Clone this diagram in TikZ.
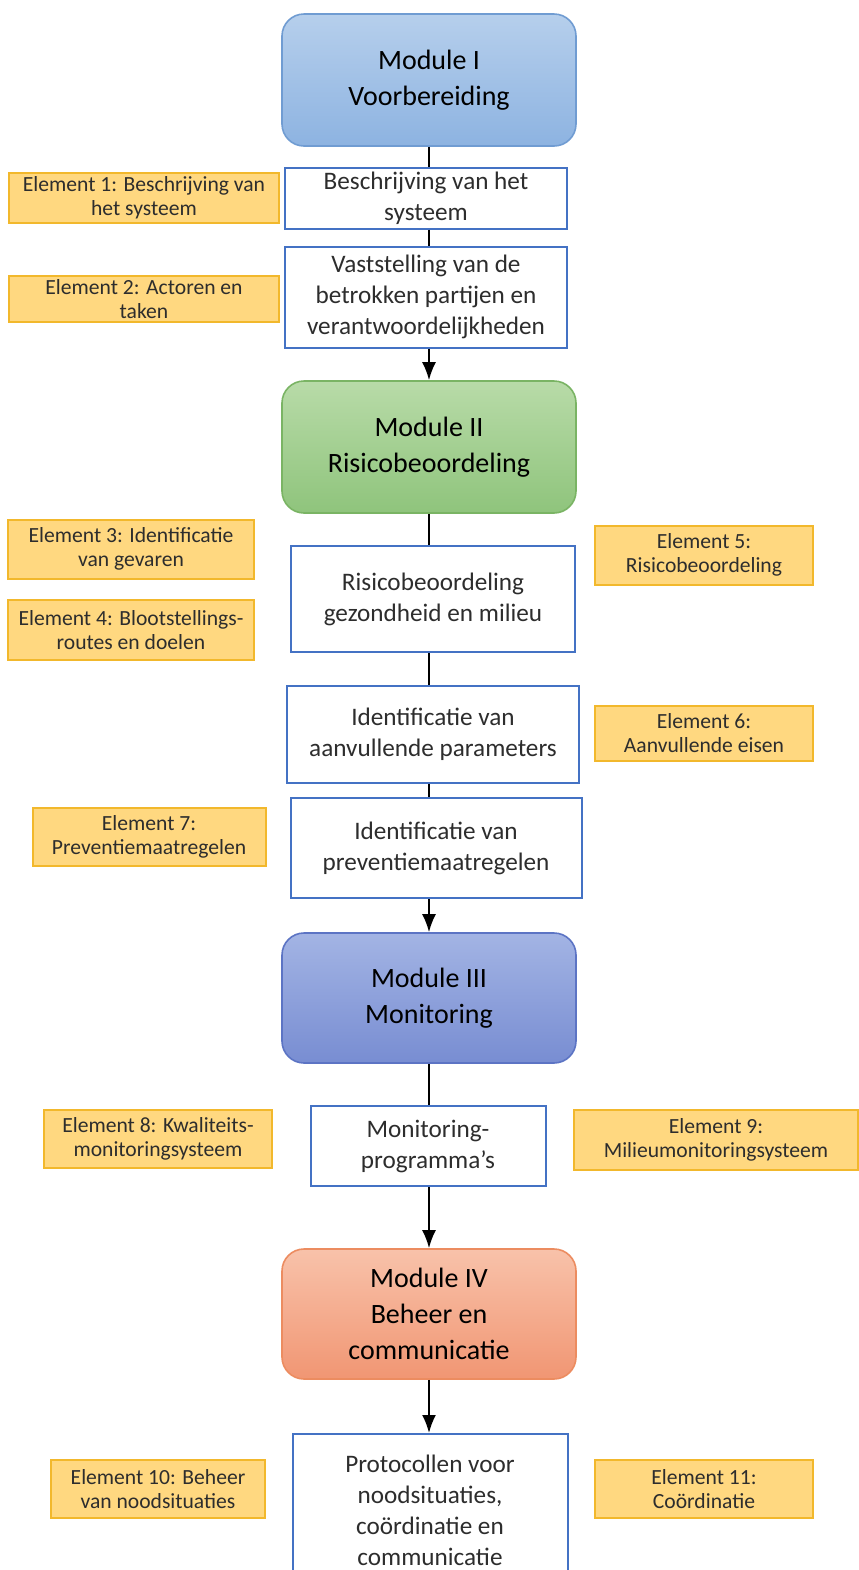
\documentclass[tikz,border=0pt]{standalone}
\usepackage{fontspec}
\setmainfont{Carlito}
\usetikzlibrary{arrows.meta}
\usepackage{xcolor}
\definecolor{blueTop}{RGB}{182, 207, 236}
\definecolor{blueBottom}{RGB}{141, 179, 225}
\definecolor{blueEdge}{RGB}{112, 156, 210}
\definecolor{greenTop}{RGB}{184, 219, 168}
\definecolor{greenBottom}{RGB}{143, 196, 124}
\definecolor{greenEdge}{RGB}{122, 180, 100}
\definecolor{violetTop}{RGB}{163, 180, 228}
\definecolor{violetBottom}{RGB}{120, 141, 210}
\definecolor{violetEdge}{RGB}{92, 116, 196}
\definecolor{orangeTop}{RGB}{248, 194, 170}
\definecolor{orangeBottom}{RGB}{241, 150, 115}
\definecolor{orangeEdge}{RGB}{236, 140, 96}
\definecolor{boxBlue}{RGB}{68, 114, 196}
\definecolor{elementFill}{RGB}{255, 216, 128}
\definecolor{elementEdge}{RGB}{242, 184, 44}
\definecolor{textGrey}{RGB}{45, 45, 45}

\begin{document}
\begin{tikzpicture}
    [
        x=0.5pt, y=-0.5pt,
        module/.style={
            draw, rounded corners=11pt, line width=0.8pt, inner sep=0pt,
            minimum width=147pt, minimum height=66pt,
            align=center, text=black, font=\fontsize{14}{18}\selectfont
        },
        stepbox/.style={
            draw=boxBlue, fill=white, line width=1pt, inner sep=0pt,
            align=center, text=textGrey, font=\fontsize{12.6}{15.5}\selectfont
        },
        element/.style={
            draw=elementEdge, fill=elementFill, line width=1pt, inner sep=0pt,
            align=center, text=textGrey, font=\fontsize{10.8}{12}\selectfont
        },
        link/.style={draw, line width=1pt},
        flow/.style={link, -{Latex[length=9pt, width=7pt]}}
    ]

\useasboundingbox (0,0) rectangle (858,1570);

% Modules
\node (mod-one) [
        module, top color=blueTop, bottom color=blueBottom, draw=blueEdge,
    ] at (429,80) {Module I\\Voorbereiding};

\node (mod-two) [
        module, top color=greenTop, bottom color=greenBottom, draw=greenEdge,
    ] at (429,447) {Module II\\Risicobeoordeling};

\node (mod-three) [
        module, top color=violetTop, bottom color=violetBottom, draw=violetEdge,
        minimum height=65pt,
    ] at (429,998) {Module III\\Monitoring};

\node (mod-four) [
        module, top color=orangeTop, bottom color=orangeBottom, draw=orangeEdge,
        minimum height=65pt,
    ] at (429,1314) {Module IV\\Beheer en\\communicatie};

% Steps
\node (systeem) [
        stepbox, minimum width=141pt, minimum height=30.5pt,
    ] at (426,198) {Beschrijving van het\\systeem};

\node (partijen) [
        stepbox, minimum width=141pt, minimum height=50.5pt,
    ] at (426,297) {Vaststelling van de\\betrokken partijen en\\verantwoordelijkheden};

\node (risico) [
        stepbox, minimum width=142pt, minimum height=53pt,
    ] at (433,599) {Risicobeoordeling\\gezondheid en milieu};

\node (parameters) [
        stepbox, minimum width=146pt, minimum height=48.5pt,
    ] at (433,734) {Identificatie van\\aanvullende parameters};

\node (preventie) [
        stepbox, minimum width=145.5pt, minimum height=50pt,
    ] at (436,848) {Identificatie van\\preventiemaatregelen};

\node (programma) [
        stepbox, minimum width=117.5pt, minimum height=40pt,
    ] at (428,1146) {Monitoring-\\programma's};

\node (protocol) [
        stepbox, minimum width=137.5pt, minimum height=76pt,
    ] at (430,1510) {Protocollen voor\\noodsituaties,\\coördinatie en\\communicatie};

% Elements
\node (el-1) [
        element, minimum width=135pt, minimum height=25pt,
    ] at (144,198) {Element 1: Beschrijving van\\het systeem};

\node (el-2) [
        element, minimum width=135pt, minimum height=23pt,
    ] at (144,299) {Element 2: Actoren en\\taken};

\node (el-3) [
        element, minimum width=123pt, minimum height=29.5pt,
    ] at (131,549) {Element 3: Identificatie\\van gevaren};

\node (el-4) [
        element, minimum width=123pt, minimum height=30pt,
    ] at (131,630) {Element 4: Blootstellings-\\routes en doelen};

\node (el-5) [
        element, minimum width=109pt, minimum height=29.5pt,
    ] at (704,555) {Element 5:\\Risicobeoordeling};

\node (el-6) [
        element, minimum width=109pt, minimum height=27.5pt,
    ] at (704,733) {Element 6:\\Aanvullende eisen};

\node (el-7) [
        element, minimum width=116.5pt, minimum height=29pt,
    ] at (149,837) {Element 7:\\Preventiemaatregelen};

\node (el-8) [
        element, minimum width=114pt, minimum height=29pt,
    ] at (158,1139) {Element 8: Kwaliteits-\\monitoringsysteem};

\node (el-9) [
        element, minimum width=142pt, minimum height=30pt,
    ] at (716,1140) {Element 9:\\Milieumonitoringsysteem};

\node (el-10) [
        element, minimum width=107pt, minimum height=29pt,
    ] at (158,1489) {Element 10: Beheer\\van noodsituaties};

\node (el-11) [
        element, minimum width=109pt, minimum height=29pt,
    ] at (704,1489) {Element 11:\\Coördinatie};

% Connectors
\draw [link] (mod-one.south) -- (mod-one.south |- systeem.north);
\draw [link] (mod-one.south |- systeem.south) -- (mod-one.south |- partijen.north);
\draw [flow] (mod-one.south |- partijen.south) -- (mod-two.north);
\draw [link] (mod-two.south) -- (mod-two.south |- risico.north);
\draw [link] (mod-two.south |- risico.south) -- (mod-two.south |- parameters.north);
\draw [link] (mod-two.south |- parameters.south) -- (mod-two.south |- preventie.north);
\draw [flow] (mod-three.north |- preventie.south) -- (mod-three.north);
\draw [link] (mod-three.south) -- (mod-three.south |- programma.north);
\draw [flow] (mod-four.north |- programma.south) -- (mod-four.north);
\draw [flow] (mod-four.south) -- (mod-four.south |- protocol.north);

\end{tikzpicture}
\end{document}
